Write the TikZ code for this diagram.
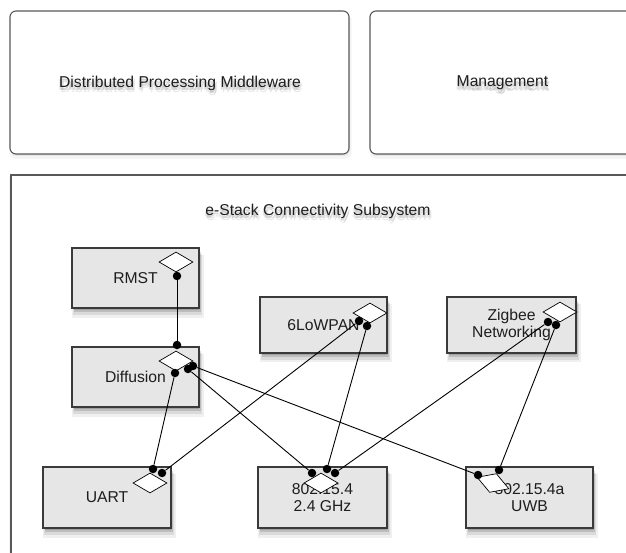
\documentclass[tikz,border=0pt]{standalone}
\usepackage{fontspec}
\setmainfont{Liberation Sans}
\usetikzlibrary{shapes.geometric,shadows}
\definecolor{boxgray}{HTML}{E6E6E6}
\definecolor{edgegray}{HTML}{3A3A3A}
\definecolor{inkgray}{HTML}{1E1E1E}
\tikzset{
  lbl/.style={font=\fontsize{15.7}{17}\selectfont, text=inkgray, align=center},
  softshadow/.style={
    general shadow={fill=black, opacity=0.06, shadow xshift=2.5pt, shadow yshift=-8pt, shadow scale=1.04},
    general shadow={fill=black, opacity=0.09, shadow xshift=2pt, shadow yshift=-6pt, shadow scale=1.02},
    general shadow={fill=black, opacity=0.13, shadow xshift=1.5pt, shadow yshift=-4pt},
    general shadow={fill=black, opacity=0.15, shadow xshift=1pt, shadow yshift=-2pt, shadow scale=0.99}},
  faintshadow/.style={
    general shadow={fill=black, opacity=0.04, shadow xshift=1pt, shadow yshift=-4pt, shadow scale=1.01},
    general shadow={fill=black, opacity=0.06, shadow xshift=1pt, shadow yshift=-2pt}},
  outerbox/.style={draw=edgegray!85, line width=1.1pt, fill=white, rounded corners=6pt, inner sep=0pt},
  modbox/.style={lbl, draw=edgegray, line width=1.2pt, fill=boxgray, inner sep=0pt, softshadow},
  port/.style={diamond, draw=black, line width=0.7pt, fill=white, inner sep=0pt,
    minimum width=34pt, minimum height=20pt},
  dot/.style={circle, fill=black, inner sep=0pt, minimum size=8.5pt},
  link/.style={draw=black, line width=0.9pt},
  haze/.style={lbl, text=black, text opacity=0.09},
}
\begin{document}
\begin{tikzpicture}[x=1pt,y=-1pt]
\useasboundingbox (0,0) rectangle (626,553);
\clip (0,0) rectangle (626,553);

% upper layer boxes
\node[outerbox, faintshadow, minimum width=339pt, minimum height=143pt] (mw) at (179.5,82.5) {};
\node[outerbox, faintshadow, minimum width=264pt, minimum height=143pt] (mgmt) at (502,82.5) {};
% connectivity subsystem frame
\node[outerbox, faintshadow, rounded corners=0pt, minimum width=649pt, minimum height=445pt] (estack) at (335.5,397.5) {};

% titles with a soft text shadow
\foreach \dx/\dy in {0/2.5,2/3.5,1/5,-1/3.5} {
  \node[haze, xshift=\dx pt, yshift=-\dy pt] at (180,83) {Distributed Processing Middleware};
  \node[haze, xshift=\dx pt, yshift=-\dy pt] at (502.5,83) {Management};
  \node[haze, xshift=\dx pt, yshift=-\dy pt] at (318,211) {e-Stack Connectivity Subsystem};
}
\node[lbl] (mwtext) at (180,83) {Distributed Processing Middleware};
\node[lbl] (mgmttext) at (502.5,83) {Management};
\node[lbl] (estacktext) at (318,211) {e-Stack Connectivity Subsystem};

% protocol modules
\node[modbox, minimum width=127pt, minimum height=60pt] (rmst) at (135.5,278) {RMST};
\node[modbox, minimum width=127pt, minimum height=60pt] (diff) at (135.5,377) {Diffusion};
\node[modbox, minimum width=127pt, minimum height=56pt] (lowpan) at (323.5,325) {6LoWPAN};
\node[modbox, minimum width=129pt, minimum height=56pt] (zig) at (511.5,325) {Zigbee\\Networking};
\node[modbox, minimum width=128pt, minimum height=61pt] (uart) at (107,497.5) {UART};
\node[modbox, minimum width=129pt, minimum height=61pt] (ghz) at (322.5,497.5) {802.15.4\\2.4 GHz};
\node[modbox, minimum width=127pt, minimum height=61pt] (uwb) at (529.5,497.5) {802.15.4a\\UWB};

% ports
\node[port] (rmstp) at (176,262) {};
\node[port] (diffp) at (176,361) {};
\node[port] (lowpanp) at (370,313) {};
\node[port] (zigp) at (560,312) {};
\node[port] (uartp) at (150,483) {};
\node[port] (ghzp) at (321,483) {};
\node[port, rotate=-20] (uwbp) at (493,483) {};

% connection ends
\node[dot] (r1) at (177,276) {};
\node[dot] (f0) at (177,345) {};
\node[dot] (f1) at (175,373) {};
\node[dot] (f2) at (188,369) {};
\node[dot] (f3) at (193,366) {};
\node[dot] (l1) at (359,321) {};
\node[dot] (l2) at (367,326) {};
\node[dot] (z1) at (548,322) {};
\node[dot] (z2) at (556,325) {};
\node[dot] (u1) at (153,469) {};
\node[dot] (u2) at (162,473) {};
\node[dot] (p1) at (312,473) {};
\node[dot] (p2) at (327,469) {};
\node[dot] (p3) at (335,473) {};
\node[dot] (w1) at (478,475) {};
\node[dot] (w2) at (499,470) {};

% links
\draw[link] (r1) -- (f0);
\draw[link] (f1) -- (u1);
\draw[link] (u2) -- (l1);
\draw[link] (l2) -- (p2);
\draw[link] (f2) -- (p1);
\draw[link] (f3) -- (w1);
\draw[link] (z1) -- (p3);
\draw[link] (z2) -- (w2);
\end{tikzpicture}
\end{document}
